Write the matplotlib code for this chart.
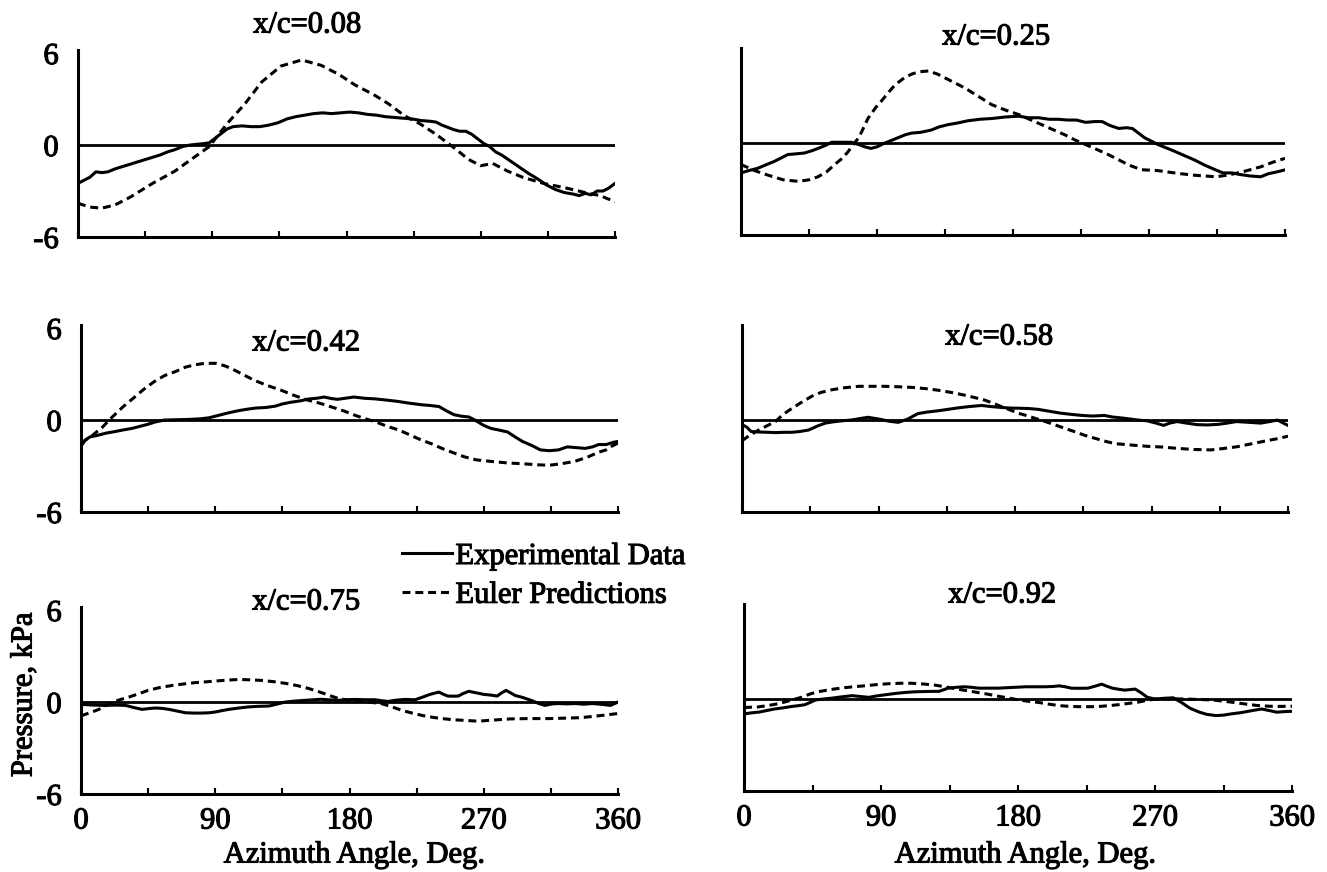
import matplotlib.pyplot as plt
import matplotlib.patheffects as pe

plt.rcParams['font.family'] = ['Liberation Serif', 'DejaVu Serif']
plt.rcParams['font.size'] = 22

# surface pressure vs azimuth, six chordwise stations
stations = ['x/c=0.08', 'x/c=0.25', 'x/c=0.42', 'x/c=0.58', 'x/c=0.75', 'x/c=0.92']

# x/c = 0.08
exp_008_deg = [0, 4, 8, 12, 16, 20, 25, 30, 35, 40, 45, 50, 55, 60, 65, 70, 75, 80, 85, 88, 92, 96,
               100, 104, 110, 116, 122, 128, 134, 140, 146, 152, 158, 164, 170, 176, 182, 188,
               194, 200, 206, 212, 218, 224, 230, 236, 240, 244, 248, 252, 256, 260, 264, 268,
               272, 276, 280, 284, 290, 296, 302, 308, 314, 320, 326, 332, 336, 340, 344, 348,
               352, 356, 360]
exp_008_kpa = [-2.5, -2.3, -2.1, -1.75, -1.8, -1.75, -1.55, -1.4, -1.25, -1.1, -0.95, -0.8, -0.65,
               -0.45, -0.3, -0.1, 0.0, 0.05, 0.1, 0.15, 0.45, 0.75, 1.05, 1.2, 1.25, 1.2, 1.2, 1.3,
               1.45, 1.7, 1.85, 1.95, 2.05, 2.1, 2.05, 2.1, 2.15, 2.1, 2.0, 1.95, 1.85, 1.8, 1.75,
               1.7, 1.6, 1.55, 1.5, 1.3, 1.15, 1.0, 0.9, 0.9, 0.7, 0.4, 0.1, -0.1, -0.45, -0.65,
               -1.05, -1.45, -1.85, -2.2, -2.6, -2.9, -3.1, -3.2, -3.3, -3.15, -3.25, -3.0, -3.0,
               -2.8, -2.5]
eul_008_deg = [0, 8, 16, 25, 35, 50, 65, 75, 88, 100, 112, 123, 136, 150, 163, 175, 186, 198, 208,
               219, 229, 240, 251, 262, 270, 278, 288, 298, 312, 327, 340, 350, 360]
eul_008_kpa = [-3.8, -4.05, -4.12, -3.9, -3.4, -2.5, -1.7, -1.0, -0.1, 1.4, 2.7, 4.1, 5.15, 5.55,
               5.2, 4.6, 3.9, 3.3, 2.7, 1.9, 1.4, 0.7, -0.1, -0.95, -1.35, -1.2, -1.7, -2.1, -2.5,
               -2.8, -3.1, -3.3, -3.7]

# x/c = 0.25
exp_025_deg = [0, 5, 11, 17, 22, 27, 31, 37, 42, 47, 51, 56, 60, 66, 73, 78, 82, 86, 90, 94, 99,
               104, 109, 113, 119, 126, 131, 137, 143, 150, 158, 166, 175, 184, 190, 197, 204, 210,
               216, 222, 228, 234, 239, 244, 250, 255, 259, 263, 267, 272, 276, 281, 286, 293, 300,
               307, 314, 319, 325, 330, 337, 344, 349, 354, 360]
exp_025_kpa = [-1.95, -1.8, -1.65, -1.4, -1.2, -0.95, -0.75, -0.7, -0.65, -0.5, -0.35, -0.15, 0.05,
               0.05, 0.05, -0.1, -0.25, -0.35, -0.25, -0.05, 0.15, 0.35, 0.55, 0.65, 0.7, 0.85,
               1.05, 1.2, 1.3, 1.45, 1.55, 1.6, 1.7, 1.75, 1.65, 1.65, 1.55, 1.55, 1.5, 1.5, 1.35,
               1.4, 1.4, 1.15, 0.95, 1.0, 0.95, 0.65, 0.35, 0.1, -0.1, -0.3, -0.5, -0.8, -1.1,
               -1.45, -1.75, -1.95, -1.95, -2.05, -2.15, -2.2, -2.0, -1.9, -1.75]
eul_025_deg = [0, 9, 18, 28, 38, 45, 51, 57, 62, 67, 71, 75, 78, 84, 89, 93, 98, 102, 108, 113,
               118, 124, 130, 135, 142, 148, 157, 166, 175, 184, 192, 199, 207, 214, 221, 228, 235,
               243, 250, 257, 265, 276, 289, 300, 314, 322, 333, 344, 352, 360]
eul_025_kpa = [-1.4, -1.8, -2.1, -2.4, -2.5, -2.4, -2.2, -1.85, -1.4, -1.0, -0.55, 0.0, 0.35, 1.6,
               2.3, 2.75, 3.35, 3.8, 4.25, 4.5, 4.65, 4.7, 4.5, 4.25, 3.9, 3.6, 3.05, 2.5, 2.15,
               1.85, 1.5, 1.2, 0.85, 0.55, 0.2, -0.1, -0.4, -0.75, -1.1, -1.45, -1.74, -1.8, -1.98,
               -2.1, -2.2, -2.1, -1.85, -1.55, -1.25, -1.0]

# x/c = 0.42
exp_042_deg = [0, 3, 6, 11, 17, 23, 28, 34, 40, 45, 50, 56, 64, 72, 80, 86, 92, 98, 105, 111, 117,
               124, 130, 135, 140, 147, 153, 158, 163, 168, 172, 177, 183, 190, 197, 205, 212, 220,
               228, 234, 240, 245, 250, 255, 260, 264, 270, 275, 280, 286, 291, 296, 302, 308, 314,
               320, 326, 332, 338, 343, 347, 352, 357, 360]
exp_042_kpa = [-1.7, -1.3, -1.1, -1.0, -0.85, -0.75, -0.65, -0.55, -0.4, -0.27, -0.12, 0.0, 0.02,
               0.04, 0.08, 0.15, 0.3, 0.45, 0.6, 0.7, 0.78, 0.82, 0.9, 1.05, 1.15, 1.25, 1.38, 1.42,
               1.5, 1.4, 1.35, 1.42, 1.5, 1.42, 1.38, 1.3, 1.22, 1.1, 1.0, 0.95, 0.88, 0.6, 0.35,
               0.25, 0.2, 0.0, -0.35, -0.55, -0.65, -0.78, -1.1, -1.4, -1.65, -1.95, -2.0, -1.95,
               -1.75, -1.8, -1.85, -1.75, -1.6, -1.6, -1.45, -1.4]
eul_042_deg = [0, 7, 14, 21, 28, 36, 42, 49, 56, 63, 70, 76, 83, 90, 96, 101, 108, 116, 125, 134,
               143, 152, 160, 168, 176, 184, 190, 197, 205, 213, 220, 228, 235, 242, 250, 257, 265,
               275, 286, 296, 306, 314, 322, 331, 340, 347, 352, 356, 360]
eul_042_kpa = [-1.5, -1.05, -0.5, 0.2, 0.85, 1.5, 2.0, 2.5, 2.9, 3.15, 3.45, 3.6, 3.7, 3.7, 3.55,
               3.35, 3.0, 2.6, 2.25, 1.95, 1.6, 1.3, 1.1, 0.85, 0.6, 0.3, 0.1, -0.1, -0.4, -0.65,
               -0.95, -1.3, -1.55, -1.85, -2.15, -2.4, -2.6, -2.7, -2.8, -2.85, -2.92, -2.95, -2.85,
               -2.7, -2.4, -2.1, -1.95, -1.7, -1.5]

# x/c = 0.58
exp_058_deg = [0, 3, 6, 11, 17, 22, 28, 33, 38, 44, 50, 55, 60, 66, 72, 78, 83, 88, 92, 97, 103,
               109, 116, 122, 129, 136, 143, 150, 158, 164, 171, 177, 183, 189, 195, 204, 210, 217,
               224, 231, 239, 244, 249, 255, 261, 267, 273, 278, 282, 287, 293, 300, 307, 314, 320,
               326, 334, 342, 348, 353, 356, 360]
exp_058_kpa = [-0.3, -0.45, -0.75, -0.78, -0.8, -0.82, -0.8, -0.8, -0.75, -0.65, -0.38, -0.2,
               -0.12, -0.05, 0.0, 0.1, 0.18, 0.1, 0.03, -0.08, -0.15, 0.05, 0.42, 0.52, 0.6, 0.7,
               0.8, 0.88, 0.95, 0.88, 0.82, 0.78, 0.77, 0.75, 0.7, 0.55, 0.45, 0.37, 0.3, 0.26, 0.3,
               0.2, 0.15, 0.08, 0.0, -0.05, -0.2, -0.35, -0.2, -0.1, -0.2, -0.3, -0.32, -0.28, -0.2,
               -0.1, -0.15, -0.2, -0.1, 0.0, -0.15, -0.35]
eul_058_deg = [0, 5, 11, 16, 22, 27, 33, 40, 46, 52, 59, 67, 77, 86, 94, 103, 112, 121, 129, 138,
               147, 154, 160, 166, 171, 177, 182, 188, 193, 200, 206, 213, 220, 226, 233, 240, 246,
               253, 259, 268, 277, 287, 298, 309, 318, 326, 336, 347, 354, 360]
eul_058_kpa = [-1.35, -1.0, -0.65, -0.4, -0.1, 0.35, 0.77, 1.2, 1.55, 1.8, 1.97, 2.1, 2.2, 2.2,
               2.2, 2.17, 2.13, 2.05, 1.95, 1.8, 1.62, 1.45, 1.3, 1.08, 0.88, 0.65, 0.45, 0.28,
               0.12, -0.1, -0.3, -0.55, -0.78, -1.0, -1.2, -1.4, -1.54, -1.6, -1.65, -1.72, -1.76,
               -1.85, -1.92, -1.95, -1.85, -1.75, -1.55, -1.33, -1.2, -1.05]

# x/c = 0.75
exp_075_deg = [0, 8, 16, 23, 30, 35, 41, 46, 50, 55, 59, 65, 70, 76, 81, 86, 90, 95, 99, 105, 112,
               119, 126, 132, 137, 143, 150, 156, 161, 167, 173, 178, 184, 190, 197, 202, 206, 211,
               217, 224, 229, 234, 240, 243, 246, 250, 253, 256, 260, 265, 270, 275, 279, 282, 285,
               288, 291, 296, 302, 307, 311, 316, 320, 326, 331, 337, 343, 349, 355, 360]
exp_075_kpa = [-0.15, -0.2, -0.22, -0.2, -0.22, -0.35, -0.48, -0.42, -0.39, -0.42, -0.48, -0.6,
               -0.7, -0.72, -0.72, -0.7, -0.65, -0.55, -0.48, -0.4, -0.32, -0.28, -0.26, -0.12,
               0.0, 0.06, 0.11, 0.15, 0.18, 0.14, 0.11, 0.15, 0.17, 0.15, 0.15, 0.08, 0.04, 0.12,
               0.17, 0.15, 0.32, 0.5, 0.65, 0.5, 0.39, 0.38, 0.39, 0.55, 0.7, 0.6, 0.5, 0.45, 0.39,
               0.6, 0.76, 0.6, 0.43, 0.3, 0.1, -0.1, -0.22, -0.12, -0.1, -0.12, -0.1, -0.14, -0.1,
               -0.15, -0.22, 0.0]
eul_075_deg = [0, 6, 12, 18, 22, 27, 32, 39, 45, 53, 61, 69, 77, 84, 90, 98, 106, 113, 121, 129,
               137, 145, 152, 158, 164, 168, 173, 178, 184, 193, 202, 208, 215, 222, 229, 236, 242,
               250, 258, 266, 276, 288, 300, 314, 325, 335, 345, 353, 360]
eul_075_kpa = [-0.9, -0.7, -0.48, -0.15, 0.02, 0.18, 0.32, 0.55, 0.76, 0.95, 1.08, 1.18, 1.27,
               1.32, 1.37, 1.43, 1.47, 1.45, 1.41, 1.33, 1.22, 1.07, 0.9, 0.72, 0.52, 0.38, 0.22,
               0.14, 0.1, 0.0, -0.12, -0.3, -0.54, -0.72, -0.88, -1.0, -1.08, -1.16, -1.2, -1.25,
               -1.18, -1.1, -1.08, -1.08, -1.05, -1.02, -0.92, -0.83, -0.75]

# x/c = 0.92
exp_092_deg = [0, 5, 10, 15, 20, 26, 31, 36, 40, 44, 47, 52, 58, 64, 71, 76, 82, 87, 93, 99, 106,
               112, 119, 124, 128, 131, 134, 140, 145, 150, 154, 160, 167, 175, 185, 191, 198, 203,
               207, 211, 215, 220, 226, 231, 235, 238, 242, 246, 250, 254, 257, 261, 265, 270, 276,
               282, 287, 293, 299, 304, 310, 315, 320, 327, 334, 340, 345, 350, 355, 360]
exp_092_kpa = [-0.97, -0.9, -0.85, -0.75, -0.65, -0.57, -0.49, -0.43, -0.37, -0.2, -0.06, 0.0,
               0.06, 0.14, 0.22, 0.17, 0.11, 0.2, 0.28, 0.36, 0.43, 0.47, 0.49, 0.5, 0.5, 0.6,
               0.71, 0.77, 0.8, 0.76, 0.71, 0.71, 0.71, 0.75, 0.8, 0.8, 0.8, 0.82, 0.86, 0.8, 0.71,
               0.7, 0.71, 0.85, 0.97, 0.85, 0.71, 0.64, 0.58, 0.62, 0.65, 0.4, 0.11, 0.0, 0.05,
               0.08, -0.2, -0.6, -0.85, -1.0, -1.08, -1.05, -0.97, -0.88, -0.75, -0.65, -0.75,
               -0.86, -0.82, -0.8]
eul_092_deg = [0, 9, 16, 23, 30, 38, 44, 50, 57, 64, 72, 80, 88, 95, 103, 110, 118, 126, 133, 141,
               148, 154, 160, 166, 173, 180, 187, 194, 200, 207, 214, 221, 228, 234, 240, 247, 253,
               259, 264, 270, 280, 290, 300, 310, 320, 329, 337, 345, 352, 360]
eul_092_kpa = [-0.55, -0.52, -0.42, -0.3, -0.1, 0.12, 0.35, 0.5, 0.62, 0.72, 0.8, 0.87, 0.95, 1.0,
               1.03, 1.03, 0.98, 0.9, 0.78, 0.63, 0.52, 0.42, 0.32, 0.2, 0.08, -0.05, -0.15, -0.23,
               -0.33, -0.43, -0.48, -0.5, -0.5, -0.48, -0.43, -0.36, -0.28, -0.2, -0.1, 0.0, 0.02,
               0.0, -0.03, -0.08, -0.2, -0.32, -0.42, -0.47, -0.48, -0.47]

exp_deg = [exp_008_deg, exp_025_deg, exp_042_deg, exp_058_deg, exp_075_deg, exp_092_deg]
exp_kpa = [exp_008_kpa, exp_025_kpa, exp_042_kpa, exp_058_kpa, exp_075_kpa, exp_092_kpa]
eul_deg = [eul_008_deg, eul_025_deg, eul_042_deg, eul_058_deg, eul_075_deg, eul_092_deg]
eul_kpa = [eul_008_kpa, eul_025_kpa, eul_042_kpa, eul_058_kpa, eul_075_kpa, eul_092_kpa]

W, H = 1327, 872
heavy = [pe.withStroke(linewidth=0.8, foreground='black')]


def px_rect(x0, x1, ytop, ybot):
    return [x0 / W, 1 - ybot / H, (x1 - x0) / W, (ybot - ytop) / H]


# panel boxes in pixels (left, right, top, bottom)
boxes = [(78, 615, 50, 237), (741, 1285, 48, 235),
         (81, 618, 325, 512), (742, 1288, 325, 512),
         (81, 618, 607, 794), (744, 1292, 604, 791)]
title_pos = [(307, 25), (996, 37), (306, 343), (999, 337), (306, 602), (1002, 595)]

fig = plt.figure(figsize=(W / 100, H / 100), dpi=100)

axes = []
for i in range(6):
    ax = fig.add_axes(px_rect(*boxes[i]))
    ax.plot(exp_deg[i], exp_kpa[i], color='black', lw=2.2, label='Experimental Data')
    ax.plot(eul_deg[i], eul_kpa[i], color='black', lw=2.2, ls=(0, (2.6, 1.6)),
            label='Euler Predictions')
    ax.axhline(0, color='black', lw=2)
    ax.set_xlim(0, 360)
    ax.set_ylim(-6, 6.2)
    for s in ['top', 'right']:
        ax.spines[s].set_visible(False)
    for s in ['left', 'bottom']:
        ax.spines[s].set_linewidth(2.2)
    ax.set_xticks([0, 90, 180, 270, 360])
    ax.set_xticks([45, 135, 225, 315], minor=True)
    ax.tick_params(axis='x', which='both', direction='in', length=4, width=1.5, pad=9)
    if i % 2 == 0:
        ax.set_yticks([-6, 0, 6])
        ax.set_yticklabels(['-6', '0', '6'])
        ax.tick_params(axis='y', length=0, pad=14)
    else:
        ax.set_yticks([])
    if i < 4:
        ax.tick_params(axis='x', labelbottom=False)
    else:
        ax.set_xticklabels(['0', '90', '180', '270', '360'])
    for lab in ax.get_xticklabels() + ax.get_yticklabels():
        lab.set_path_effects(heavy)
    fig.text(title_pos[i][0] / W, 1 - title_pos[i][1] / H, stations[i],
             ha='center', va='center', path_effects=heavy)
    axes.append(ax)

fig.text(354 / W, 1 - 855 / H, 'Azimuth Angle, Deg.', ha='center', va='center',
         path_effects=heavy)
fig.text(1025 / W, 1 - 855 / H, 'Azimuth Angle, Deg.', ha='center', va='center',
         path_effects=heavy)
fig.text(24 / W, 1 - 695 / H, 'Pressure, kPa', rotation=90, ha='center', va='center',
         path_effects=heavy)

handles, labels = axes[0].get_legend_handles_labels()
leg = fig.legend(handles, labels, loc='upper left', bbox_to_anchor=(402 / W, 1 - 542 / H),
                 frameon=False, handlelength=1.65, handletextpad=0.1, labelspacing=0.32,
                 borderpad=0, borderaxespad=0)
for t in leg.get_texts():
    t.set_path_effects(heavy)

fig.savefig('out.png', dpi=100)
